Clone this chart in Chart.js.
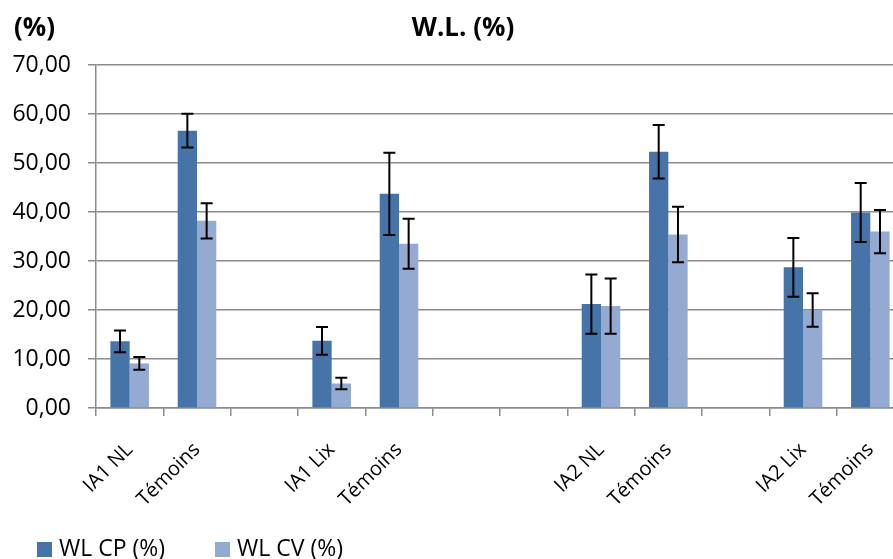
<!DOCTYPE html>
<html>
<head>
<meta charset="utf-8">
<script src="https://cdn.jsdelivr.net/npm/chart.js@4.4.1/dist/chart.umd.min.js"></script>
<style>
  html, body { margin: 0; padding: 0; overflow: hidden; background: #fff; }
</style>
</head>
<body>
<canvas id="wlChart" width="926" height="559"></canvas>
<script>
// categories (empty strings = gaps between groups)
const categories = ["IA1 NL", "Témoins", "", "IA1 Lix", "Témoins", "", "", "IA2 NL", "Témoins", "", "IA2 Lix", "Témoins"];

// WL CP (%)
const cpValues = [13.6, 56.6, null, 13.7, 43.7, null, null, 21.2, 52.3, null, 28.7, 39.9];
const cpErrors = [2.2, 3.45, null, 2.85, 8.4, null, null, 6.05, 5.45, null, 6.0, 6.0];

// WL CV (%)
const cvValues = [9.1, 38.2, null, 5.0, 33.5, null, null, 20.8, 35.4, null, 20.0, 36.0];
const cvErrors = [1.3, 3.6, null, 1.15, 5.1, null, null, 5.65, 5.65, null, 3.4, 4.4];

const yTicks = [0, 10, 20, 30, 40, 50, 60, 70];

const gridGray = "#8c8c8c";
const fontFamily = "'Open Sans', 'Noto Sans', sans-serif";

// error bars drawn from the y scale
const errorBars = {
  id: "errorBars",
  afterDatasetsDraw(chart) {
    const ctx = chart.ctx;
    const yScale = chart.scales.y;
    ctx.save();
    ctx.strokeStyle = "#000";
    ctx.lineWidth = 2;
    chart.data.datasets.forEach((ds, i) => {
      const meta = chart.getDatasetMeta(i);
      meta.data.forEach((bar, j) => {
        const v = ds.data[j];
        const e = ds.errors[j];
        if (v == null || e == null) return;
        const x = bar.x;
        const top = yScale.getPixelForValue(v + e);
        const bot = yScale.getPixelForValue(v - e);
        ctx.beginPath();
        ctx.moveTo(x, top);
        ctx.lineTo(x, bot);
        ctx.moveTo(x - 6, top);
        ctx.lineTo(x + 6, top);
        ctx.moveTo(x - 6, bot);
        ctx.lineTo(x + 6, bot);
        ctx.stroke();
      });
    });
    ctx.restore();
  },
};

// title, "(%)" unit label and the legend at the bottom
const extraText = {
  id: "extraText",
  afterDraw(chart) {
    const ctx = chart.ctx;
    ctx.save();
    ctx.fillStyle = "#000";
    ctx.textBaseline = "middle";
    ctx.font = "bold 26px " + fontFamily;
    ctx.textAlign = "center";
    ctx.fillText("W.L. (%)", 463, 29);
    ctx.textAlign = "left";
    ctx.fillText("(%)", 14, 29);

    ctx.font = "23px " + fontFamily;
    const starts = [37, 215];
    chart.data.datasets.forEach((ds, i) => {
      const x = starts[i];
      ctx.fillStyle = ds.backgroundColor;
      ctx.fillRect(x, 542, 15, 15);
      ctx.fillStyle = "#000";
      ctx.fillText(ds.label, x + 22, 549);
    });
    ctx.restore();
  },
};

const ctx = document.getElementById("wlChart");
new Chart(ctx, {
  type: "bar",
  data: {
    labels: categories,
    datasets: [
      {
        label: "WL CP (%)",
        data: cpValues,
        errors: cpErrors,
        backgroundColor: "#4673a8",
        categoryPercentage: 0.573,
        barPercentage: 1.0,
      },
      {
        label: "WL CV (%)",
        data: cvValues,
        errors: cvErrors,
        backgroundColor: "#95aad1",
        categoryPercentage: 0.573,
        barPercentage: 1.0,
      },
    ],
  },
  options: {
    responsive: false,
    animation: false,
    layout: { padding: { left: 0, right: 22, top: 65, bottom: 40 } },
    plugins: {
      legend: { display: false },
      tooltip: { enabled: false },
      title: { display: false },
    },
    scales: {
      x: {
        grid: {
          drawOnChartArea: false,
          drawTicks: true,
          tickLength: 8,
          color: gridGray,
          lineWidth: 1.5,
          offset: true,
        },
        border: { color: gridGray, width: 1.5 },
        ticks: {
          autoSkip: false,
          minRotation: 45,
          maxRotation: 45,
          color: "#000",
          padding: 22,
          font: { family: fontFamily, size: 20 },
        },
        afterFit(scale) {
          scale.height = 559 - 40 - 408;
        },
      },
      y: {
        min: 0,
        max: 70,
        afterBuildTicks(scale) {
          scale.ticks = yTicks.map((v) => ({ value: v }));
        },
        grid: { color: gridGray, lineWidth: 1.5, tickLength: 8 },
        border: { color: gridGray, width: 1.5 },
        ticks: {
          color: "#000",
          padding: 17,
          font: { family: fontFamily, size: 23 },
          callback: (v) => v.toFixed(2).replace(".", ","),
        },
        afterFit(scale) {
          scale.width = 96;
        },
      },
    },
  },
  plugins: [errorBars, extraText],
});
</script>
</body>
</html>
